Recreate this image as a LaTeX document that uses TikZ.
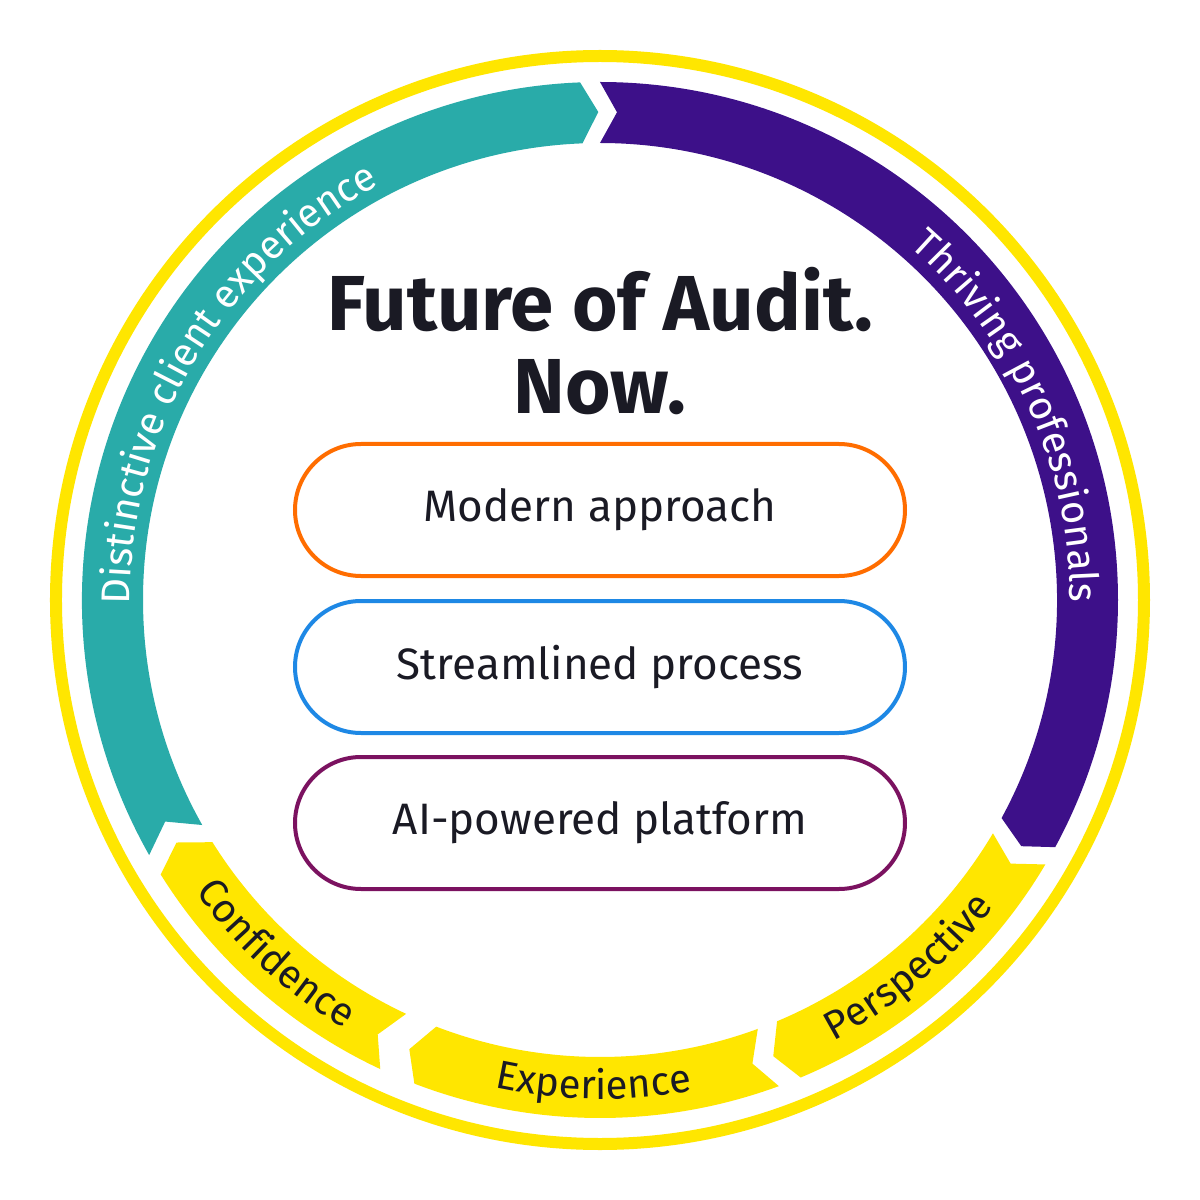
\documentclass[tikz,border=0pt]{standalone}
\usepackage{fontspec}
\setmainfont{Fira Sans}
\usetikzlibrary{decorations.text}
\definecolor{teal}{HTML}{29ABA9}
\definecolor{purp}{HTML}{3D1089}
\definecolor{yel}{HTML}{FFE600}
\definecolor{ink}{HTML}{1A1A24}
\definecolor{orng}{HTML}{FF6D00}
\definecolor{blu}{HTML}{1E88E5}
\definecolor{plum}{HTML}{7B1260}
\newcommand\seg[5]{%
\fill[#1] (#2:518) arc[start angle=#2,end angle=#3,radius=518] -- ({#3+#5}:488) -- (#3:457) arc[start angle=#3,end angle=#2,radius=457] -- ({#2+#4}:488) -- cycle;}
\newcommand\arctext[5]{%
\path[decorate,decoration={text along path,text align=center,text={|\color{#1}\fontsize{40}{40}\selectfont|#5}}] (#2:#4) arc[start angle=#2,end angle=#3,radius=#4];}
\begin{document}
\begin{tikzpicture}[x=1pt,y=1pt,
  pill/.style={draw,line width=4pt,rounded corners=66pt,minimum width=610pt,minimum height=132pt,text=ink,font=\fontsize{44}{44}\selectfont}]
\useasboundingbox (-600,-600) rectangle (600,600);
\fill[white] (-600,-600) rectangle (600,600);
\draw[yel,line width=12pt] (0,0) circle[radius=544];
\seg{teal}{209.5}{92.2}{-2.5}{-2}
\seg{purp}{90}{-28.5}{-2}{-1.8}
\seg{yel}{-30.7}{-67.2}{-2}{-2}
\seg{yel}{-69.8}{-111}{-2}{-2}
\seg{yel}{-115.1}{-148}{-2}{-2.2}
\arctext{white}{182.5}{116}{470}{Distinctive client experience}
\arctext{white}{50}{-1.5}{470}{Thriving professionals}
\arctext{ink}{-64.5}{-35.5}{499}{Perspective}
\arctext{ink}{-104}{-77.5}{499}{Experience}
\arctext{ink}{-146}{-119}{499}{Confidence}
\node[text=ink,font=\fontsize{78}{78}\selectfont\bfseries] (t1) at (0,300) {Future of Audit.};
\node[text=ink,font=\fontsize{78}{78}\selectfont\bfseries] (t2) at (0,213) {Now.};
\node[pill,draw=orng] (p1) at (0,90) {Modern approach};
\node[pill,draw=blu] (p2) at (0,-67) {Streamlined process};
\node[pill,draw=plum] (p3) at (0,-223) {AI-powered platform};
\end{tikzpicture}
\end{document}
